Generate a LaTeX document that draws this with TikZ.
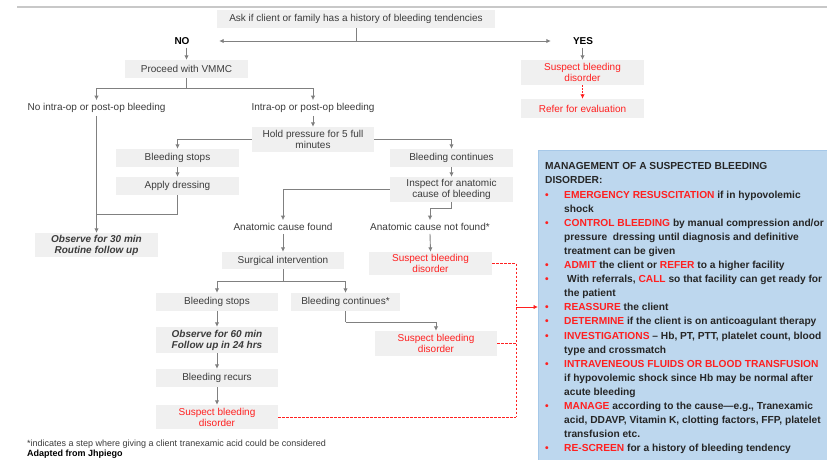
\documentclass[tikz,border=0pt]{standalone}
\usepackage{fontspec}
\setmainfont{Liberation Sans}
\usetikzlibrary{arrows.meta}
\definecolor{boxgray}{HTML}{F0F0F0}
\definecolor{txtgray}{HTML}{3C3C3C}
\definecolor{lngray}{HTML}{808080}
\definecolor{mred}{HTML}{FF2020}
\definecolor{bluebg}{HTML}{BDD7EE}
\definecolor{blueedge}{HTML}{A6C8E8}
\definecolor{topline}{HTML}{C8C8C8}
\newcommand{\mgred}[1]{\textcolor{mred}{#1}}
\newcommand{\mgbul}{\makebox[19pt][l]{\textcolor{mred}{\textbullet}}}
\newcommand{\mgind}{\hspace*{19pt}}
\begin{document}
\begin{tikzpicture}[x=1pt,y=-1pt,
  fc/.style={fill=boxgray,text=txtgray,font=\fontsize{10}{11}\selectfont,align=center,inner sep=0pt,minimum width=#1},
  fcred/.style={fc=#1,text=mred},
  lbl/.style={text=txtgray,font=\fontsize{10}{11}\selectfont,inner sep=3pt},
  yn/.style={text=black,font=\fontsize{10}{11}\selectfont\bfseries,inner sep=3pt},
  arr/.style={draw=lngray,line width=0.9pt,-{Latex[length=4.5pt,width=4.5pt]}},
  ln/.style={draw=lngray,line width=0.9pt},
  rdash/.style={draw=mred,line width=0.9pt,dash pattern=on 2.5pt off 1.5pt},
  rarr/.style={draw=mred,line width=0.9pt,-{Latex[length=4.5pt,width=4.5pt]}}]
\useasboundingbox (0,0) rectangle (827,459);
\fill[white] (0,0) rectangle (827,459);
% top rule
\draw[topline,line width=1.2pt] (17,7) -- (827,7);
% blue management box
\node[fill=bluebg,draw=blueedge,line width=0.6pt,minimum width=292,minimum height=312,anchor=north west,inner sep=0pt] (mgmt) at (538,150) {};
\node[anchor=north west,inner sep=0pt,align=left,font=\fontsize{10.2}{14.1}\selectfont\bfseries,text=black!85] (mgtext) at (545,162.5) {%
MANAGEMENT OF A SUSPECTED BLEEDING\\
DISORDER:\\
\mgbul\mgred{EMERGENCY RESUSCITATION} if in hypovolemic\\
\mgind shock\\
\mgbul\mgred{CONTROL BLEEDING} by manual compression and/or\\
\mgind pressure\ \ dressing until diagnosis and definitive\\
\mgind treatment can be given\\
\mgbul\mgred{ADMIT} the client or \mgred{REFER} to a higher facility\\
\mgbul\hspace*{3pt}With referrals, \mgred{CALL} so that facility can get ready for\\
\mgind the patient\\
\mgbul\mgred{REASSURE} the client\\
\mgbul\mgred{DETERMINE} if the client is on anticoagulant therapy\\
\mgbul\mgred{INVESTIGATIONS} -- Hb, PT, PTT, platelet count, blood\\
\mgind type and crossmatch\\
\mgbul\mgred{INTRAVENEOUS FLUIDS OR BLOOD TRANSFUSION}\\
\mgind if hypovolemic shock since Hb may be normal after\\
\mgind acute bleeding\\
\mgbul\mgred{MANAGE} according to the cause---e.g., Tranexamic\\
\mgind acid, DDAVP, Vitamin K, clotting factors, FFP, platelet\\
\mgind transfusion etc.\\
\mgbul\mgred{RE-SCREEN} for a history of bleeding tendency};
% flowchart nodes
\node[fc=278,minimum height=18] (ask) at (356,19) {Ask if client or family has a history of bleeding tendencies};
\node[yn,minimum width=74] (no) at (182,41) {NO};
\node[yn,minimum width=64] (yes) at (583,41) {YES};
\node[fc=123,minimum height=18] (proc) at (186.5,69) {Proceed with VMMC};
\node[fcred=123,minimum height=25] (ysusp) at (582.5,72.5) {Suspect bleeding\\disorder};
\node[fcred=123,minimum height=19] (refer) at (582.5,108.5) {Refer for evaluation};
\node[lbl] (noop) at (96.5,108) {No intra-op or post-op bleeding};
\node[lbl] (intraop) at (313,108) {Intra-op or post-op bleeding};
\node[fc=122,minimum height=25] (hold) at (313,139.5) {Hold pressure for 5 full\\minutes};
\node[fc=123,minimum height=18] (bstop) at (177.5,158) {Bleeding stops};
\node[fc=123,minimum height=18] (bcont) at (451.5,158) {Bleeding continues};
\node[fc=123,minimum height=18] (apply) at (177.5,186) {Apply dressing};
\node[fc=123,minimum height=25] (insp) at (451.5,189.5) {Inspect for anatomic\\cause of bleeding};
\node[fc=123,minimum height=24,font=\fontsize{10}{11}\selectfont\bfseries\itshape] (obsa) at (96.5,245) {Observe for 30 min\\Routine follow up};
\node[lbl] (acf) at (283,227) {Anatomic cause found};
\node[lbl] (acnf) at (430,227) {Anatomic cause not found*};
\node[fc=122,minimum height=17] (surg) at (283,260.5) {Surgical intervention};
\node[fcred=123,minimum height=23] (susa) at (430.5,263.5) {Suspect bleeding\\disorder};
\node[fc=122,minimum height=18] (bstopb) at (217,302) {Bleeding stops};
\node[fc=109,minimum height=18] (bcontb) at (345.5,302) {Bleeding continues*};
\node[fc=122,minimum height=26,font=\fontsize{10}{11}\selectfont\bfseries\itshape] (obsb) at (217,340) {Observe for 60 min\\Follow up in 24 hrs};
\node[fcred=122,minimum height=25] (susb) at (436,343.5) {Suspect bleeding\\disorder};
\node[fc=122,minimum height=18] (recur) at (217,378) {Bleeding recurs};
\node[fcred=122,minimum height=24] (susc) at (217,417) {Suspect bleeding\\disorder};
% footnote
\node[anchor=base west,inner sep=0pt,text=txtgray,font=\fontsize{9}{10}\selectfont] (fn) at (27,446) {*indicates a step where giving a client tranexamic acid could be considered};
\node[anchor=base west,inner sep=0pt,text=black,font=\fontsize{9}{10}\selectfont\bfseries] (adapt) at (27,456.5) {Adapted from Jhpiego};
% junction coordinates
\coordinate (jtop) at (356,41);
\coordinate (jproc) at (186.5,88);
\coordinate (japply) at (96.5,214);
\coordinate (jinsp) at (451.5,208);
\coordinate (jsurg) at (283,281);
\coordinate (jbcont) at (345.5,322);
\coordinate (rtop) at (516,263.5);
\coordinate (rbot) at (516,417);
\coordinate (rmid) at (516,343.5);
\coordinate (rarrow) at (516,307);
% connectors
\draw[ln] (ask.south) -- (jtop);
\draw[arr] (jtop) -- (no.east);
\draw[arr] (jtop) -- (yes.west);
\draw[arr] (proc.north |- no.south) -- (proc.north);
\draw[arr] (ysusp.north |- yes.south) -- (ysusp.north);
\draw[rarr,dash pattern=on 2pt off 1pt] (ysusp.south) -- (refer.north);
\draw[ln] (proc.south) -- (jproc);
\draw[arr] (jproc) -| (noop.north);
\draw[arr] (jproc) -| (intraop.north);
\draw[arr] (intraop.south) -- (hold.north);
\draw[arr] (noop.south) -- (obsa.north);
\draw[arr] (hold.west) -| (bstop.north);
\draw[arr] (hold.east) -| (bcont.north);
\draw[arr] (bstop.south) -- (apply.north);
\draw[ln] (apply.south) |- (japply);
\draw[arr] (bcont.south) -- (insp.north);
\draw[arr] (insp.west) -| (acf.north);
\draw[ln] (insp.south) -- (jinsp);
\draw[arr] (jinsp) -| (acnf.north);
\draw[arr] (acf.south) -- (surg.north);
\draw[arr] (acnf.south) -- (susa.north);
\draw[ln] (surg.south) -- (jsurg);
\draw[arr] (jsurg) -| (bstopb.north);
\draw[arr] (jsurg) -| (bcontb.north);
\draw[arr] (bstopb.south) -- (obsb.north);
\draw[arr] (obsb.south) -- (recur.north);
\draw[arr] (recur.south) -- (susc.north);
\draw[ln] (bcontb.south) -- (jbcont);
\draw[arr] (jbcont) -| (susb.north);
% red dashed links
\draw[rdash] (susa.east) -- (rtop) -- (rbot);
\draw[rdash] (susc.east) -- (rbot);
\draw[rdash] (susb.east) -- (rmid);
\draw[rarr] (rarrow) -- (rarrow -| mgmt.west);
\end{tikzpicture}
\end{document}
